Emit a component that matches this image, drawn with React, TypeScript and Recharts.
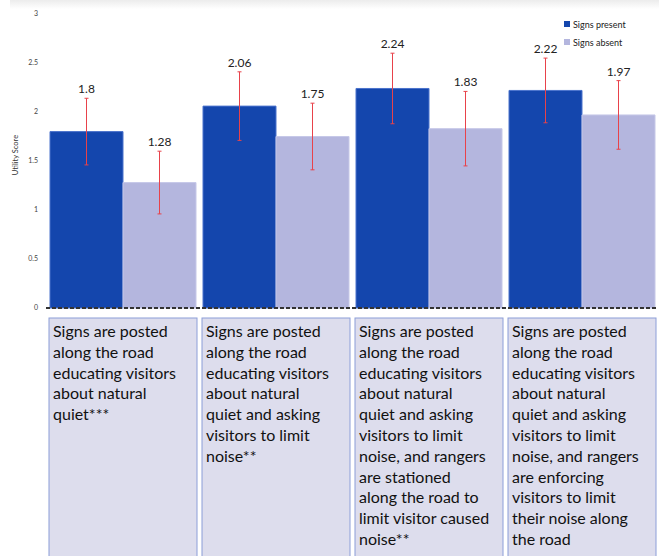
import { BarChart, Bar, XAxis, YAxis, ErrorBar, LabelList, Legend, Label } from 'recharts';

// category labels, one entry per line as they wrap in the boxes
const categories = [
  ['Signs are posted', 'along the road', 'educating visitors', 'about natural', 'quiet***'],
  ['Signs are posted', 'along the road', 'educating visitors', 'about natural', 'quiet and asking', 'visitors to limit', 'noise**'],
  ['Signs are posted', 'along the road', 'educating visitors', 'about natural', 'quiet and asking', 'visitors to limit', 'noise, and rangers', 'are stationed', 'along the road to', 'limit visitor caused', 'noise**'],
  ['Signs are posted', 'along the road', 'educating visitors', 'about natural', 'quiet and asking', 'visitors to limit', 'noise, and rangers', 'are enforcing', 'visitors to limit', 'their noise along', 'the road'],
];
const seriesNames = ['Signs present', 'Signs absent'];
const signsPresent = [1.8, 2.06, 2.24, 2.22];
const signsAbsent = [1.28, 1.75, 1.83, 1.97];
const presentError = [0.34, 0.35, 0.36, 0.33];
const absentError = [0.32, 0.34, 0.38, 0.35];
const yTicks = [0, 0.5, 1, 1.5, 2, 2.5, 3];

const data = categories.map((lines, i) => ({
  name: lines.join(' '),
  present: signsPresent[i],
  absent: signsAbsent[i],
  presentErr: presentError[i],
  absentErr: absentError[i],
}));

const FONT = 'Lato, "Open Sans", sans-serif';

function BoxTick(props: any) {
  const { x, y, index } = props;
  const lines = categories[index] || [];
  const w = 148;
  const left = x - w / 2 + 0.5;
  const top = y + 2;
  return (
    <g>
      <rect x={left} y={top} width={w} height={260} fill="#dddded" stroke="#8c9ed8" strokeWidth={1} />
      <text x={left + 4} y={top + 19} fontSize={16} fill="#111" fontFamily={FONT}>
        {lines.map((l, i) => (
          <tspan key={i} x={left + 4} dy={i === 0 ? 0 : 20.8}>{l}</tspan>
        ))}
      </text>
    </g>
  );
}

function makeValueLabel(errors: number[]) {
  return (props: any) => {
    const { x, y, width, height, value, index } = props;
    const pxPerUnit = height / value;
    const top = y - errors[index] * pxPerUnit;
    return (
      <text x={x + width / 2} y={top - 5} textAnchor="middle" fontSize={12} fill="#222" fontFamily={FONT}>
        {value}
      </text>
    );
  };
}

function LegendBox(props: any) {
  const items = [...(props.payload || [])].sort(
    (a: any, b: any) => seriesNames.indexOf(a.value) - seriesNames.indexOf(b.value)
  );
  return (
    <div style={{ fontFamily: FONT, fontSize: 9, color: '#222' }}>
      {items.map((p: any) => (
        <div key={p.value} style={{ display: 'flex', alignItems: 'center', height: 18 }}>
          <span style={{ width: 6, height: 6, background: p.color, marginRight: 3, display: 'inline-block' }} />
          {p.value}
        </div>
      ))}
    </div>
  );
}

export default function App() {
  return (
    <div style={{ position: 'absolute', left: 0, top: 0, width: 659, height: 556, background: '#fff', overflow: 'hidden' }}>
      <div style={{ position: 'absolute', left: 10, right: 0, top: 0, height: 9, background: 'linear-gradient(#ececec, #ffffff)' }} />
      <BarChart
        width={659}
        height={556}
        data={data}
        margin={{ top: 14, right: 1, left: 0, bottom: 0 }}
        barCategoryGap={4}
        barGap={0}
        style={{ fontFamily: FONT }}
      >
        <XAxis
          dataKey="name"
          height={248}
          tickLine={false}
          axisLine={{ stroke: '#333', strokeWidth: 2, strokeDasharray: '4 2' }}
          tick={<BoxTick />}
          interval={0}
        />
        <YAxis
          width={46}
          domain={[0, 3]}
          ticks={yTicks}
          axisLine={false}
          tickLine={false}
          tick={{ fontSize: 7, fill: '#444', fontFamily: FONT }}
        >
          <Label
            content={(p: any) => {
              const vb = p.viewBox || { y: 14, height: 294 };
              const cy = vb.y + vb.height / 2 - 6;
              return (
                <text x={16} y={cy} transform={`rotate(-90 16 ${cy})`} textAnchor="middle" dominantBaseline="middle" fontSize={7.5} fill="#333" fontFamily={FONT}>
                  Utility Score
                </text>
              );
            }}
          />
        </YAxis>
        <Legend
          layout="vertical"
          align="center"
          verticalAlign="middle"
          wrapperStyle={{ left: 564, top: 15, width: 90 }}
          content={<LegendBox />}
        />
        <Bar dataKey="present" name={seriesNames[0]} fill="#1446ad" stroke="#4a72cc" strokeWidth={1} isAnimationActive={false}>
          <ErrorBar dataKey="presentErr" direction="y" width={2} stroke="#e8424a" strokeWidth={1} isAnimationActive={false} />
          <LabelList dataKey="present" content={makeValueLabel(presentError)} />
        </Bar>
        <Bar dataKey="absent" name={seriesNames[1]} fill="#b4b6de" stroke="#c6c8e8" strokeWidth={1} isAnimationActive={false}>
          <ErrorBar dataKey="absentErr" direction="y" width={2} stroke="#e8424a" strokeWidth={1} isAnimationActive={false} />
          <LabelList dataKey="absent" content={makeValueLabel(absentError)} />
        </Bar>
      </BarChart>
    </div>
  );
}
